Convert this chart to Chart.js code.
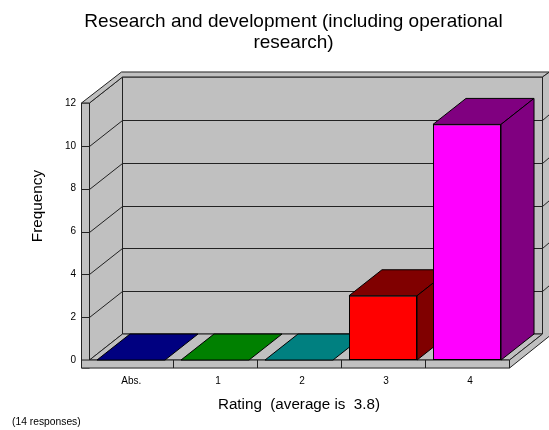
<!DOCTYPE html>
<html>
<head>
<meta charset="utf-8">
<title>Research and development</title>
<script src="https://cdn.jsdelivr.net/npm/chart.js@4/dist/chart.umd.min.js"></script>
<style>
    html, body { margin: 0; padding: 0; background: #fff; }
    canvas { display: block; }
</style>
</head>
<body>
<canvas id="ratingChart" width="549" height="430"></canvas>
<script>
var categories = ['Abs.', '1', '2', '3', '4'];
var frequency = [0, 0, 0, 3, 11];
var yTicks = [0, 2, 4, 6, 8, 10, 12];
var titleLines = ['Research and development (including operational', 'research)'];
var xAxisTitle = 'Rating  (average is  3.8)';
var yAxisTitle = 'Frequency';
var footnote = '(14 responses)';

var frontColors = ['#0000ff', '#00ff00', '#00ffff', '#ff0000', '#ff00ff'];
var depthColors = ['#000080', '#008000', '#008080', '#800000', '#800080'];

// depth of the fake 3D box, and the frame thickness around it
var depthX = 33;
var depthY = 26;
var wallGrey = '#c0c0c0';
var lineColor = '#222';

Chart.defaults.font.family = '"Liberation Sans", Arial, sans-serif';
Chart.defaults.color = '#000';

function poly(ctx, pts, fill) {
    ctx.beginPath();
    ctx.moveTo(pts[0][0], pts[0][1]);
    for (var i = 1; i < pts.length; i++) ctx.lineTo(pts[i][0], pts[i][1]);
    ctx.closePath();
    if (fill) {
        ctx.fillStyle = fill;
        ctx.fill();
    }
    ctx.stroke();
}

function seg(ctx, x1, y1, x2, y2) {
    ctx.beginPath();
    ctx.moveTo(x1, y1);
    ctx.lineTo(x2, y2);
    ctx.stroke();
}

// walls, floor and gridlines drawn behind the bars
var boxPlugin = {
    id: 'box3d',
    beforeDatasetsDraw: function (chart) {
        var ctx = chart.ctx;
        var x = chart.scales.x;
        var y = chart.scales.y;
        var left = x.left + 0.5;
        var right = x.right + 0.5;
        var top = y.getPixelForValue(12);
        var bottom = y.getPixelForValue(0);
        var backL = left + depthX;
        var backR = right + depthX;
        var outerL = left - 8;
        var outerB = bottom + 8;
        var outerR = backR + 7;
        var outerT = top - depthY - 5;

        ctx.save();
        ctx.lineWidth = 1;
        ctx.strokeStyle = lineColor;

        poly(ctx, [[backL, top - depthY], [backR, top - depthY], [backR, bottom - depthY], [backL, bottom - depthY]], wallGrey);
        poly(ctx, [[left, top], [backL, top - depthY], [backL, bottom - depthY], [left, bottom]], wallGrey);
        poly(ctx, [[left, bottom], [backL, bottom - depthY], [backR, bottom - depthY], [right, bottom]], wallGrey);
        poly(ctx, [[outerL, top], [left, top], [left, outerB], [outerL, outerB]], wallGrey);
        poly(ctx, [[outerL, top], [backL - 1, outerT], [outerR, outerT], [backR, top - depthY], [backL, top - depthY], [left, top]], wallGrey);
        poly(ctx, [[backR, top - depthY], [outerR, outerT], [outerR, bottom - depthY + 2], [right, outerB], [right, bottom], [backR, bottom - depthY]], wallGrey);
        poly(ctx, [[outerL, bottom], [right, bottom], [right, outerB], [outerL, outerB]], wallGrey);

        yTicks.forEach(function (v) {
            var py = Math.round(y.getPixelForValue(v)) + 0.5;
            if (v === 0 || v === 12) return;
            seg(ctx, outerL, py, left, py);
            seg(ctx, left, py, backL, py - depthY);
            seg(ctx, backL, py - depthY, backR, py - depthY);
            seg(ctx, backR, py - depthY, outerR, py - depthY - 6);
        });

        // separators on the front ledge
        for (var i = 1; i < categories.length; i++) {
            var px = Math.round((x.getPixelForValue(i - 1) + x.getPixelForValue(i)) / 2) + 0.5;
            seg(ctx, px, bottom, px, outerB);
        }

        // top and side faces of the bars
        var bars = chart.getDatasetMeta(0).data;
        ctx.strokeStyle = '#000';
        bars.forEach(function (bar, i) {
            var l = bar.x - bar.width / 2;
            var r = bar.x + bar.width / 2;
            var t = bar.y;
            var b = bar.base;
            poly(ctx, [[l, t], [l + depthX, t - depthY], [r + depthX, t - depthY], [r, t]], depthColors[i]);
            if (b > t) {
                poly(ctx, [[r, t], [r + depthX, t - depthY], [r + depthX, b - depthY], [r, b]], depthColors[i]);
            }
        });
        ctx.restore();
    },
    afterLayout: function (chart) {
        // title is centred over the whole box including its depth
        chart.titleBlock.left = 78;
    },
    afterDraw: function (chart) {
        var ctx = chart.ctx;
        ctx.save();
        ctx.translate(38, 206);
        ctx.rotate(-Math.PI / 2);
        ctx.font = '15.3px "Liberation Sans", Arial, sans-serif';
        ctx.fillStyle = '#000';
        ctx.textAlign = 'center';
        ctx.textBaseline = 'middle';
        ctx.fillText(yAxisTitle, 0, 0);
        ctx.restore();
    }
};

var chart = new Chart(document.getElementById('ratingChart').getContext('2d'), {
    type: 'bar',
    data: {
        labels: categories,
        datasets: [{
            data: frequency,
            backgroundColor: frontColors,
            borderColor: '#000',
            borderWidth: 1,
            borderSkipped: false,
            barPercentage: 0.81,
            categoryPercentage: 1
        }]
    },
    options: {
        responsive: false,
        animation: false,
        layout: { padding: { left: 12, right: 40, top: 0, bottom: 0 } },
        plugins: {
            legend: { display: false },
            tooltip: { enabled: false },
            title: {
                display: true,
                text: titleLines,
                color: '#000',
                font: { size: 19, weight: 'normal', lineHeight: 1.105 },
                padding: { top: 11, bottom: 50 }
            },
            subtitle: {
                display: true,
                text: footnote,
                position: 'bottom',
                align: 'start',
                color: '#000',
                font: { size: 10.3, weight: 'normal' },
                padding: { top: 0, bottom: 2 }
            }
        },
        scales: {
            x: {
                grid: { display: false, drawTicks: false, tickLength: 0 },
                border: { display: false },
                ticks: {
                    font: { size: 10 },
                    padding: 15,
                    maxRotation: 0,
                    labelOffset: 3,
                    // the first label sits a little further left than the digits
                    callback: function (value) {
                        return value === 0 ? categories[value] + '  ' : categories[value];
                    }
                },
                title: {
                    display: true,
                    text: xAxisTitle,
                    color: '#000',
                    font: { size: 15.2 },
                    padding: { top: 3, bottom: 1.6 }
                },
                afterFit: function (scale) { scale.height = 55.6; }
            },
            y: {
                min: 0,
                max: 12,
                grid: { display: false, drawTicks: false, tickLength: 0 },
                border: { display: false },
                ticks: { stepSize: 2, font: { size: 10 }, padding: 13 },
                afterFit: function (scale) { scale.width = 77; }
            }
        }
    },
    plugins: [boxPlugin]
});
</script>
</body>
</html>
